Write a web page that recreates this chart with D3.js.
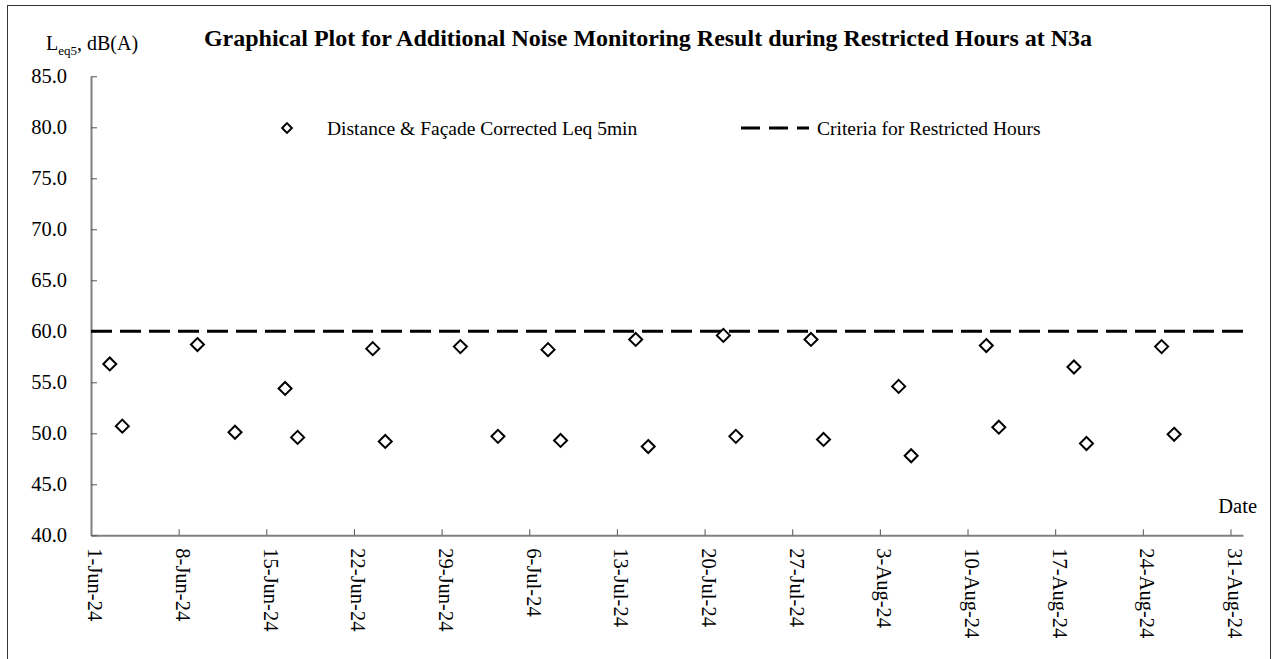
<!DOCTYPE html>
<html lang="en">
<head>
<meta charset="utf-8">
<title>Noise Monitoring N3a</title>
<script src="https://d3js.org/d3.v7.min.js"></script>
<style>
body { margin: 0; background: #fff; }
svg { display: block; font-family: "Liberation Serif", "Times New Roman", serif; }
</style>
</head>
<body>
<svg width="1280" height="659"></svg>
<script>
// measurement dates and Leq5min values (dB(A))
var dates = ["2024-06-02","2024-06-03","2024-06-09","2024-06-12","2024-06-16","2024-06-17",
  "2024-06-23","2024-06-24","2024-06-30","2024-07-03","2024-07-07","2024-07-08",
  "2024-07-14","2024-07-15","2024-07-21","2024-07-22","2024-07-28","2024-07-29",
  "2024-08-04","2024-08-05","2024-08-11","2024-08-12","2024-08-18","2024-08-19",
  "2024-08-25","2024-08-26"];
var leq = [56.8,50.7,58.7,50.1,54.4,49.6,
  58.3,49.2,58.5,49.7,58.2,49.3,
  59.2,48.7,59.6,49.7,59.2,49.4,
  54.6,47.8,58.6,50.6,56.5,49.0,
  58.5,49.9];
var criteria = 60;
var yTicks = [40,45,50,55,60,65,70,75,80,85];

var parse = d3.utcParse("%Y-%m-%d");
var data = dates.map(function(d, i) { return { date: parse(d), value: leq[i] }; });

var svg = d3.select("svg");
var plotL = 91, plotR = 1243, plotT = 76.3, plotB = 535.3;

var start = parse("2024-06-01"), end = parse("2024-09-01");
var x = d3.scaleUtc().domain([start, end]).range([plotL, plotR]);
var y = d3.scaleLinear().domain([40, 85]).range([plotB, plotT]);
var halfDay = 12 * 3600 * 1000;

// outer border
svg.append("rect").attr("x", 7.5).attr("y", 5.5).attr("width", 1263).attr("height", 660)
  .attr("fill", "none").attr("stroke", "#333").attr("stroke-width", 1);

// title
svg.append("text").attr("x", 648).attr("y", 46).attr("text-anchor", "middle")
  .attr("font-size", 24).attr("font-weight", "bold")
  .text("Graphical Plot for Additional Noise Monitoring Result during Restricted Hours at N3a");

// y label
var yl = svg.append("text").attr("x", 46).attr("y", 50).attr("font-size", 20);
yl.append("tspan").text("L");
yl.append("tspan").attr("font-size", 13).attr("dy", 5).text("eq5");
yl.append("tspan").attr("dy", -5).text(", dB(A)");

// x ticks every 7 days
var xTicks = d3.utcDay.range(start, end, 7);

var xAxis = svg.append("g").attr("transform", "translate(0," + plotB + ")")
  .call(d3.axisBottom(x).tickValues(xTicks).tickSizeInner(-6).tickSizeOuter(0).tickFormat(d3.utcFormat("%-d-%b-%y")));
xAxis.select(".domain").attr("stroke", "#808080").attr("stroke-width", 2);
xAxis.selectAll(".tick line").attr("stroke", "#555").attr("stroke-width", 1);
xAxis.selectAll(".tick text")
  .attr("font-family", "Liberation Serif, serif").attr("font-size", 20.5).attr("fill", "#000")
  .attr("transform", "rotate(90)").attr("text-anchor", "start")
  .attr("x", 13).attr("y", 0).attr("dy", "0.15em");

var yAxis = svg.append("g").attr("transform", "translate(" + plotL + ",0)")
  .call(d3.axisLeft(y).tickValues(yTicks).tickSizeInner(-6).tickSizeOuter(0).tickFormat(d3.format(".1f")));
yAxis.select(".domain").attr("stroke", "#808080").attr("stroke-width", 2);
yAxis.selectAll(".tick line").attr("stroke", "#555").attr("stroke-width", 1);
yAxis.selectAll(".tick text")
  .attr("font-family", "Liberation Serif, serif").attr("font-size", 20.5).attr("fill", "#000")
  .attr("x", -24);

// criteria line
svg.append("line").attr("x1", plotL).attr("x2", plotR + 3)
  .attr("y1", y(criteria)).attr("y2", y(criteria))
  .attr("stroke", "#000").attr("stroke-width", 3).attr("stroke-dasharray", "21,8");

// diamond markers
var diamond = "M0,-6.5L6.5,0L0,6.5L-6.5,0Z";
svg.append("g").selectAll("path").data(data).enter().append("path")
  .attr("d", diamond)
  .attr("transform", function(d) { return "translate(" + x(new Date(+d.date + halfDay)) + "," + y(d.value) + ")"; })
  .attr("fill", "#fff").attr("stroke", "#000").attr("stroke-width", 2);

// "Date" label
svg.append("text").attr("x", 1257).attr("y", 513).attr("text-anchor", "end")
  .attr("font-size", 20.5).text("Date");

// legend
svg.append("path").attr("d", diamond).attr("transform", "translate(287,128) scale(0.75)")
  .attr("fill", "#fff").attr("stroke", "#000").attr("stroke-width", 2.6);
svg.append("text").attr("x", 327).attr("y", 135).attr("font-size", 19.5)
  .text("Distance & Façade Corrected Leq 5min");
svg.append("line").attr("x1", 741).attr("x2", 809).attr("y1", 128).attr("y2", 128)
  .attr("stroke", "#000").attr("stroke-width", 3).attr("stroke-dasharray", "19,9");
svg.append("text").attr("x", 817).attr("y", 135).attr("font-size", 19.5)
  .text("Criteria for Restricted Hours");
</script>
</body>
</html>
